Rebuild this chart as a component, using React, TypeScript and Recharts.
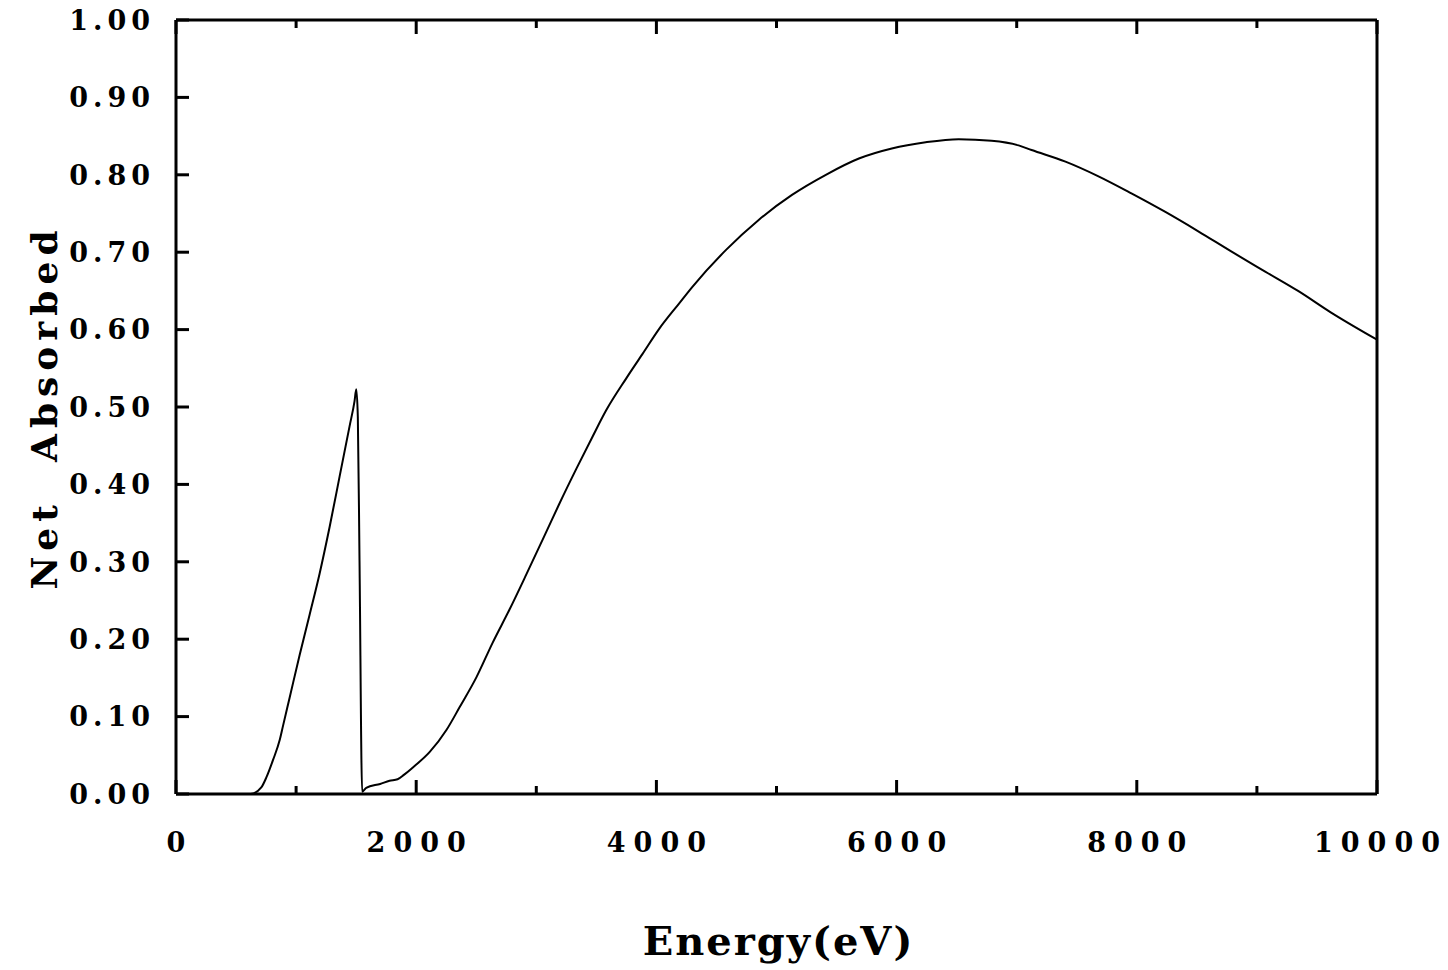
import React from 'react';
import { LineChart, Line, XAxis, YAxis, Label } from 'recharts';

// Energy (eV)
const energy = [
  0, 620, 712, 754, 808, 864, 891, 947, 1030, 1113, 1196, 1279, 1362, 1445, 1487, 1501,
  1514, 1528, 1550, 1584, 1700, 1778, 1845, 1900, 1970, 2111, 2253, 2361, 2502, 2635,
  2776, 2918, 3051, 3192, 3333, 3466, 3583, 3749, 3882, 4023, 4190, 4298, 4580, 4854,
  5129, 5411, 5686, 5960, 6242, 6517, 6791, 7016, 7124, 7406, 7681, 7955, 8238, 8512,
  8786, 9069, 9343, 9618, 10000,
];
// Net absorbed fraction
const absorbed = [
  0, 0, 0.009, 0.022, 0.044, 0.07, 0.088, 0.125, 0.18, 0.232, 0.285, 0.345, 0.41, 0.475, 0.508, 0.523,
  0.487, 0.302, 0.003, 0.008, 0.013, 0.017, 0.019, 0.025, 0.034, 0.054, 0.083, 0.112, 0.151, 0.195,
  0.238, 0.284, 0.328, 0.375, 0.42, 0.461, 0.496, 0.537, 0.568, 0.601, 0.634, 0.655, 0.703, 0.742,
  0.774, 0.8, 0.821, 0.834, 0.842, 0.846, 0.844, 0.838, 0.832, 0.817, 0.798, 0.776, 0.752, 0.727,
  0.701, 0.675, 0.65, 0.622, 0.587,
];

const xTicks = [0, 1000, 2000, 3000, 4000, 5000, 6000, 7000, 8000, 9000, 10000];
const xLabelTicks = [0, 2000, 4000, 6000, 8000, 10000];
const yTicks = [0, 0.1, 0.2, 0.3, 0.4, 0.5, 0.6, 0.7, 0.8, 0.9, 1.0];

const data = energy.map((e, i) => ({ e, v: absorbed[i] }));

const FONT = '"DejaVu Serif", "Liberation Serif", serif';
const W = 1448;
const H = 970;
const PL = 176;
const PR = 1377;
const PT = 20;
const PB = 794;

const BottomTick = (props: any) => {
  const { x, y, payload } = props;
  const major = xLabelTicks.includes(payload.value);
  const len = major ? 14 : 8;
  return (
    <g>
      <line x1={x} x2={x} y1={y} y2={y - len} stroke="#000" strokeWidth={3} />
      {major && (
        <text
          x={x + 4}
          y={y + 58}
          textAnchor="middle"
          fontFamily={FONT}
          fontWeight="bold"
          fontSize={27}
          letterSpacing={8}
          fill="#000"
        >
          {payload.value}
        </text>
      )}
    </g>
  );
};

const TopTick = (props: any) => {
  const { x, y, payload } = props;
  const major = xLabelTicks.includes(payload.value);
  const len = major ? 14 : 8;
  return <line x1={x} x2={x} y1={y} y2={y + len} stroke="#000" strokeWidth={3} />;
};

const LeftTick = (props: any) => {
  const { x, y, payload } = props;
  return (
    <g>
      <line x1={x} x2={x + 13} y1={y} y2={y} stroke="#000" strokeWidth={3} />
      <text
        x={x - 21}
        y={y}
        dy="0.36em"
        textAnchor="end"
        fontFamily={FONT}
        fontWeight="bold"
        fontSize={27}
        letterSpacing={5}
        fill="#000"
      >
        {Number(payload.value).toFixed(2)}
      </text>
    </g>
  );
};

const RightTick = (props: any) => {
  const { x, y } = props;
  return <line x1={x} x2={x - 13} y1={y} y2={y} stroke="#000" strokeWidth={3} />;
};

export default function App() {
  return (
    <div style={{ width: W, height: H, background: '#fff', margin: '-8px 0 0 -8px' }}>
      <LineChart width={W} height={H} data={data} margin={{ top: 0, right: 0, bottom: 0, left: 0 }}>
        <XAxis
          xAxisId="b"
          dataKey="e"
          type="number"
          domain={[0, 10000]}
          ticks={xTicks}
          interval={0}
          orientation="bottom"
          height={H - PB}
          tickSize={0}
          tickMargin={0}
          tickLine={false}
          axisLine={{ stroke: '#000', strokeWidth: 3 }}
          tick={<BottomTick />}
        >
          <Label
            content={() => (
              <text
                x={(PL + PR) / 2 + 2}
                y={955}
                textAnchor="middle"
                fontFamily={FONT}
                fontWeight="bold"
                fontSize={40}
                letterSpacing={2}
                fill="#000"
              >
                Energy(eV)
              </text>
            )}
          />
        </XAxis>
        <XAxis
          xAxisId="t"
          dataKey="e"
          type="number"
          domain={[0, 10000]}
          ticks={xTicks}
          interval={0}
          orientation="top"
          height={PT}
          tickSize={0}
          tickMargin={0}
          tickLine={false}
          axisLine={{ stroke: '#000', strokeWidth: 3 }}
          tick={<TopTick />}
        />
        <YAxis
          yAxisId="l"
          type="number"
          domain={[0, 1]}
          ticks={yTicks}
          interval={0}
          orientation="left"
          width={PL}
          tickSize={0}
          tickMargin={0}
          tickLine={false}
          axisLine={{ stroke: '#000', strokeWidth: 3 }}
          tick={<LeftTick />}
        >
          <Label
            content={() => (
              <text
                x={57}
                y={407}
                transform="rotate(-90 57 407)"
                textAnchor="middle"
                fontFamily={FONT}
                fontWeight="bold"
                fontSize={36}
                letterSpacing={6}
                fill="#000"
                style={{ whiteSpace: 'pre' }}
              >
                {'Net  Absorbed'}
              </text>
            )}
          />
        </YAxis>
        <YAxis
          yAxisId="r"
          type="number"
          domain={[0, 1]}
          ticks={yTicks}
          interval={0}
          orientation="right"
          width={W - PR}
          tickSize={0}
          tickMargin={0}
          tickLine={false}
          axisLine={{ stroke: '#000', strokeWidth: 3 }}
          tick={<RightTick />}
        />
        <Line
          xAxisId="b"
          yAxisId="l"
          dataKey="v"
          type="monotone"
          stroke="#000"
          strokeWidth={2}
          dot={false}
          isAnimationActive={false}
        />
      </LineChart>
    </div>
  );
}
